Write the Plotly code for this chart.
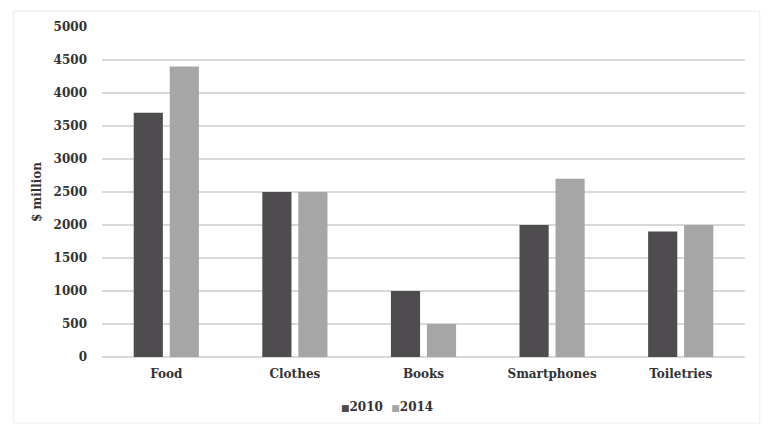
################################################################################
# Libraries
################################################################################
import plotly.graph_objects as go
################################################################################
# Data
################################################################################
categories = ["Food", "Clothes", "Books", "Smartphones", "Toiletries"]
values2010 = [3700, 2500, 1000, 2000, 1900]
values2014 = [4400, 2500, 500, 2700, 2000]
yTicks = [0, 500, 1000, 1500, 2000, 2500, 3000, 3500, 4000, 4500, 5000]
################################################################################
# Style
################################################################################
darkColor = "#4f4c4f"
lightColor = "#a6a6a6"
gridColor = "#d9d9d9"
textColor = "#333333"
fontFamily = "DejaVu Serif"
################################################################################
# Figure
################################################################################
fig = go.Figure(data=[
	go.Bar(x=categories, y=values2010, name="2010", marker=dict(color=darkColor, line=dict(width=0))),
	go.Bar(x=categories, y=values2014, name="2014", marker=dict(color=lightColor, line=dict(width=0))),
])
# page body adds 8px offset, margins compensate for it
fig.update_layout(
	width=773, height=438,
	margin=dict(l=94, r=36, t=14, b=89),
	paper_bgcolor="white", plot_bgcolor="white",
	barmode="group", bargap=0.44, bargroupgap=0.19,
	showlegend=False,
	font=dict(family=fontFamily, size=12, color=textColor, weight="bold"),
)
fig.update_xaxes(showgrid=False, showline=False, ticks="", ticklabelstandoff=8,
                 tickfont=dict(size=12, weight="bold"))
fig.update_yaxes(range=[0, 5000], tickvals=yTicks, showgrid=True, gridcolor=gridColor, gridwidth=1.5,
                 zeroline=True, zerolinecolor=gridColor, zerolinewidth=1.5, showline=False, ticks="",
                 ticklabelstandoff=14, tickfont=dict(size=12, weight="bold"),
                 title=dict(text="$ million", font=dict(size=12, weight="bold"), standoff=9))
# legend as text with small square markers
fig.add_annotation(xref="paper", yref="paper", x=0.4425, y=-0.152, xanchor="center", yanchor="middle",
                   showarrow=False, font=dict(family=fontFamily, size=12, weight="bold", color=textColor),
                   text="<span style='color:%s;font-size:9px'>■</span>2010  <span style='color:%s;font-size:9px'>■</span>2014" % (darkColor, lightColor))
# faint outer frame
fig.add_shape(type="rect", xref="paper", yref="paper", x0=-0.138, x1=1.023, y0=-0.2, y1=1.048,
              line=dict(color="#ececec", width=1), layer="below")
fig.write_html("out.html")
